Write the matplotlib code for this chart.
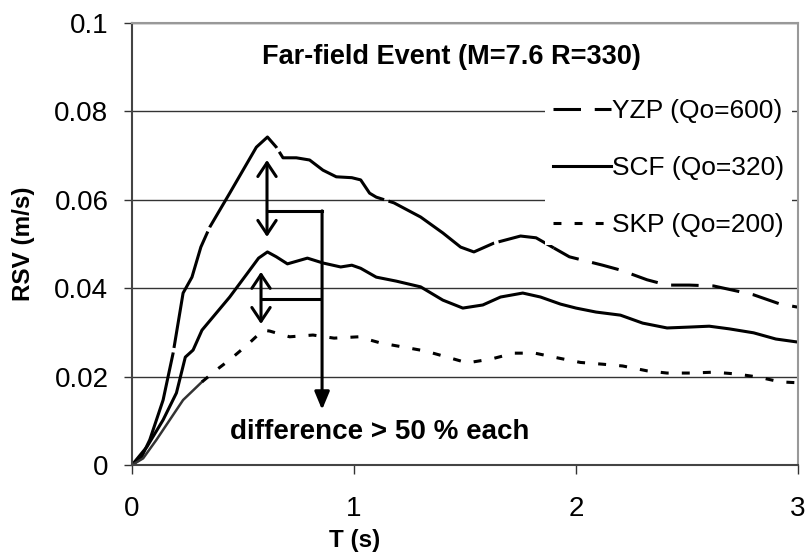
import matplotlib
matplotlib.use("Agg")
import matplotlib.pyplot as plt
import numpy as np

plt.rcParams['font.family'] = ['Liberation Sans', 'DejaVu Sans']

# Far-field event, response spectra (RSV) for three sites
t_yzp = [0, 0.04, 0.08, 0.14, 0.185, 0.23, 0.27, 0.31, 0.35, 0.44, 0.50, 0.56, 0.61, 0.65, 0.68,
         0.74, 0.80, 0.86, 0.92, 0.99, 1.03, 1.07, 1.10, 1.18, 1.30, 1.40, 1.48, 1.54, 1.63, 1.75,
         1.82, 1.90, 1.97, 2.12, 2.2, 2.32, 2.41, 2.51, 2.62, 2.72, 2.8, 2.92, 3.0]
rsv_yzp = [0, 0.0015, 0.0057, 0.0147, 0.0253, 0.0389, 0.0425, 0.0493, 0.0538, 0.0615, 0.0667, 0.0719,
           0.0742, 0.0719, 0.0695, 0.0695, 0.069, 0.0667, 0.0652, 0.065, 0.0645, 0.0615, 0.0606,
           0.0593, 0.0561, 0.0525, 0.0493, 0.0482, 0.0502, 0.0518, 0.0514, 0.0491, 0.0471, 0.0452,
           0.0441, 0.0419, 0.0407, 0.0407, 0.0405, 0.0394, 0.0385, 0.0364, 0.0357]

t_scf = [0, 0.067, 0.14, 0.20, 0.24, 0.275, 0.315, 0.365, 0.44, 0.52, 0.57, 0.61, 0.65, 0.70, 0.79,
         0.86, 0.94, 0.99, 1.03, 1.10, 1.19, 1.30, 1.40, 1.49, 1.58, 1.66, 1.76, 1.84, 1.93, 2.0,
         2.09, 2.2, 2.3, 2.41, 2.51, 2.6, 2.69, 2.8, 2.9, 3.0]
rsv_scf = [0, 0.0041, 0.0102, 0.0163, 0.0244, 0.026, 0.0305, 0.0335, 0.038, 0.0434, 0.0468, 0.0482,
           0.0471, 0.0455, 0.0468, 0.0457, 0.0448, 0.0452, 0.0445, 0.0425, 0.0416, 0.0403, 0.0373,
           0.0355, 0.0362, 0.038, 0.0389, 0.038, 0.0364, 0.0355, 0.0346, 0.0339, 0.0321, 0.031,
           0.0312, 0.0314, 0.0308, 0.0299, 0.0285, 0.0278]

t_skp = [0, 0.05, 0.11, 0.23, 0.315, 0.38, 0.44, 0.52, 0.59, 0.62, 0.71, 0.815, 0.91, 1.02, 1.12,
         1.22, 1.32, 1.42, 1.51, 1.62, 1.72, 1.815, 1.92, 2.02, 2.12, 2.21, 2.32, 2.41, 2.52, 2.62,
         2.72, 2.82, 2.92, 3.0]
rsv_skp = [0, 0.0015, 0.0057, 0.0147, 0.0188, 0.0215, 0.0238, 0.0272, 0.0305, 0.0303, 0.029, 0.0294,
           0.0287, 0.029, 0.0276, 0.0267, 0.0258, 0.0244, 0.0231, 0.024, 0.0253, 0.0253, 0.0242,
           0.0232, 0.0228, 0.0224, 0.0213, 0.0208, 0.0208, 0.021, 0.0206, 0.0199, 0.0188, 0.0186]

labels = ['YZP (Qo=600)', 'SCF (Qo=320)', 'SKP (Qo=200)']
yticks = [0, 0.02, 0.04, 0.06, 0.08, 0.1]
xticks = [0, 1, 2, 3]

fig = plt.figure(figsize=(8.11, 5.58), dpi=100)
ax = fig.add_axes([0.1628, 0.1667, 0.8212, 0.7921])

lw = 2.2
t_yzp = np.array(t_yzp); rsv_yzp = np.array(rsv_yzp)
t_skp = np.array(t_skp); rsv_skp = np.array(rsv_skp)

# YZP: mostly unbroken in the dense part, dashed further out
k = np.searchsorted(t_yzp, 1.9)
ax.plot(t_yzp[:k + 1], rsv_yzp[:k + 1], color='black', lw=lw, ls=(0, (40, 1.5)))
ax.plot(t_yzp[k:], rsv_yzp[k:], color='black', lw=lw, ls=(0, (9, 4.5)), label=labels[0])

ax.plot(t_scf, rsv_scf, color='black', lw=lw, ls='-', label=labels[1])

j = np.searchsorted(t_skp, 0.3)
ax.plot(t_skp[:j + 1], rsv_skp[:j + 1], color='#333333', lw=1.8, ls='-')
ax.plot(t_skp[j:], rsv_skp[j:], color='black', lw=lw, ls=(0, (2.6, 4.3)), label=labels[2])

ax.set_xlim(0, 3)
ax.set_ylim(0, 0.1)
ax.set_xticks(xticks)
ax.set_yticks(yticks)
ax.set_xticklabels([str(v) for v in xticks])
ax.set_yticklabels(['0', '0.02', '0.04', '0.06', '0.08', '0.1'])
ax.tick_params(axis='y', direction='out', length=6, width=1, pad=11, labelsize=20, color='#333333')
ax.tick_params(axis='x', direction='out', length=6.5, width=1, pad=16, labelsize=20, color='#333333')

ax.grid(axis='y', color='#333333', lw=1)
ax.set_axisbelow(True)
for s in ['top', 'right']:
    ax.spines[s].set_color('#999999')
    ax.spines[s].set_linewidth(1.5)
for s in ['left', 'bottom']:
    ax.spines[s].set_color('#444444')
    ax.spines[s].set_linewidth(1.5)

ax.set_xlabel('T (s)', fontsize=17.5, fontweight='bold')
ax.set_ylabel('RSV (m/s)', fontsize=17.5, fontweight='bold')
ax.xaxis.set_label_coords((355 - 132) / 666, -0.145)
ax.yaxis.set_label_coords(-0.145, 0.5)

ax.text(1.44, 0.0923, 'Far-field Event (M=7.6 R=330)', ha='center', va='center',
        fontsize=19.5, fontweight='bold')

leg = ax.legend(loc='upper left', bbox_to_anchor=(0.62, 0.845), fontsize=19, frameon=True,
                fancybox=False, edgecolor='none', facecolor='white', framealpha=1,
                handlelength=2.2, handletextpad=0.05, labelspacing=1.25, borderpad=0.3,
                borderaxespad=0)

# annotation: differences between curves
head2 = dict(arrowstyle='<->,head_length=0.45,head_width=0.3', lw=2.2, color='black',
             shrinkA=0, shrinkB=0, mutation_scale=22)
ax.annotate('', xy=(0.608, 0.069), xytext=(0.608, 0.0516), arrowprops=head2)
ax.annotate('', xy=(0.581, 0.0437), xytext=(0.581, 0.0319), arrowprops=head2)
ax.plot([0.608, 0.856], [0.0575, 0.0575], color='black', lw=2.2)
ax.plot([0.59, 0.842], [0.0376, 0.0376], color='black', lw=2.2)
ax.annotate('', xy=(0.856, 0.0125), xytext=(0.856, 0.0575),
            arrowprops=dict(arrowstyle='-|>,head_length=0.6,head_width=0.25', lw=2.2,
                            color='black', shrinkA=0, shrinkB=0, mutation_scale=18))
ax.text(1.117, 0.0075, 'difference > 50 % each', ha='center', va='center',
        fontsize=20, fontweight='bold')

fig.savefig('out.png', dpi=100)
